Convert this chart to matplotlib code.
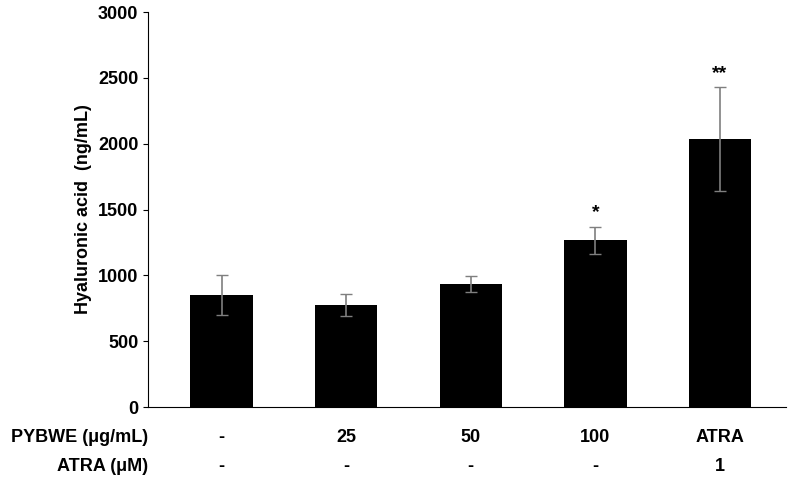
import matplotlib
matplotlib.use("Agg")
import matplotlib.pyplot as plt

row1 = ["-", "25", "50", "100", "ATRA"]
row2 = ["-", "-", "-", "-", "1"]
values = [850, 775, 934, 1265, 2035]
errors = [150, 82, 60, 105, 395]
marks = ["", "", "", "*", "**"]
yticks = [0, 500, 1000, 1500, 2000, 2500, 3000]

plt.rcParams["font.family"] = "Liberation Sans"
plt.rcParams["font.weight"] = "bold"
fig = plt.figure(figsize=(8, 4.87), dpi=100)
ax = fig.add_axes([148/800, 1-407/487, (786-148)/800, (407-12)/487])
x = list(range(1, 6))
ax.bar(x, values, width=0.5, color="black")
ax.errorbar(x, values, yerr=errors, fmt="none", ecolor="#7f7f7f", capsize=4, elinewidth=1.2)
for xi, v, e, m in zip(x, values, errors, marks):
    if m:
        ax.text(xi, v + e + 40, m, ha="center", va="bottom", fontsize=14, fontweight="bold")
ax.set_xlim(0.41, 5.53)
ax.set_ylim(0, 3000)
ax.set_yticks(yticks)
ax.set_yticklabels([str(t) for t in yticks], fontsize=13, fontweight="bold")
ax.set_xticks([])
ax.spines["top"].set_visible(False)
ax.spines["right"].set_visible(False)
ax.set_ylabel("Hyaluronic acid  (ng/mL)", fontsize=13, fontweight="bold")
for xi, a, b in zip(x, row1, row2):
    ax.text(xi, -235, a, ha="center", va="center", fontsize=13, fontweight="bold")
    ax.text(xi, -455, b, ha="center", va="center", fontsize=13, fontweight="bold")
ax.text(0.41, -235, "PYBWE (μg/mL)", ha="right", va="center", fontsize=13, fontweight="bold")
ax.text(0.41, -455, "ATRA (μM)", ha="right", va="center", fontsize=13, fontweight="bold")
fig.savefig("out.png", dpi=100)
